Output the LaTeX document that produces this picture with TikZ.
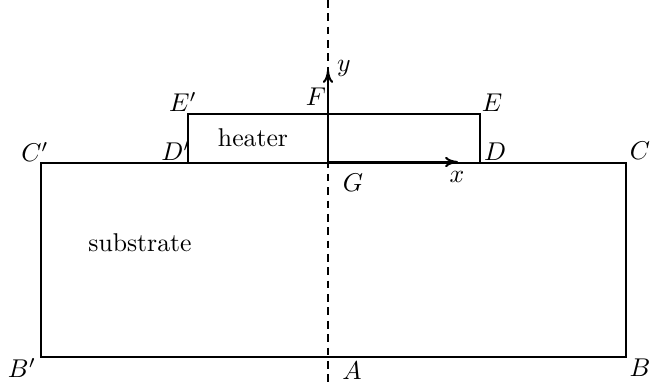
\documentclass[tikz,border=0pt]{standalone}
\usetikzlibrary{arrows.meta}
\begin{document}
\begin{tikzpicture}[x=0.389pt,y=-0.389pt,
  thinline/.style={line width=0.4pt},
  axisarrow/.style={line width=0.8pt,-{To[length=5pt,width=4pt]}},
  lbl/.style={inner sep=0pt,font=\normalsize}]
\useasboundingbox (0,0) rectangle (659,382);
% corners
\coordinate (Bp) at (41,357);
\coordinate (B) at (626,357);
\coordinate (C) at (626,163);
\coordinate (Cp) at (41,163);
\coordinate (Dp) at (188,163);
\coordinate (Ep) at (188,114);
\coordinate (E) at (480,114);
\coordinate (D) at (480,163);
\coordinate (G) at (328,163);
\coordinate (Ftop) at (328,70);
\coordinate (Xstart) at (328,162);
\coordinate (Xend) at (458,162);
\coordinate (dtop) at (328,0);
\coordinate (dbot) at (328,382);
% shapes
\draw[thinline] (Cp) -- (C) -- (B) -- (Bp) -- cycle;
\draw[thinline] (Dp) -- (Ep) -- (E) -- (D);
\draw[thinline,dash pattern=on 3pt off 2.2pt] (dtop) -- (dbot);
\draw[axisarrow] (G) -- (Ftop);
\draw[axisarrow] (Xstart) -- (Xend);
% texts
\node[lbl] (lheater) at (253,138) {heater};
\node[lbl] (lsub) at (140,243) {substrate};
\node[lbl] (lCp) at (35,152) {$C'$};
\node[lbl] (lBp) at (22,368) {$B'$};
\node[lbl] (lA) at (352,371) {$A$};
\node[lbl] (lB) at (640,368) {$B$};
\node[lbl] (lC) at (640,151) {$C$};
\node[lbl] (lD) at (495,152) {$D$};
\node[lbl] (lDp) at (176,151) {$D'$};
\node[lbl] (lEp) at (183,102) {$E'$};
\node[lbl] (lE) at (492,103) {$E$};
\node[lbl] (lF) at (316,97) {$F$};
\node[lbl] (ly) at (344,68) {$y$};
\node[lbl] (lG) at (353,183) {$G$};
\node[lbl] (lx) at (457,177) {$x$};
\end{tikzpicture}
\end{document}
